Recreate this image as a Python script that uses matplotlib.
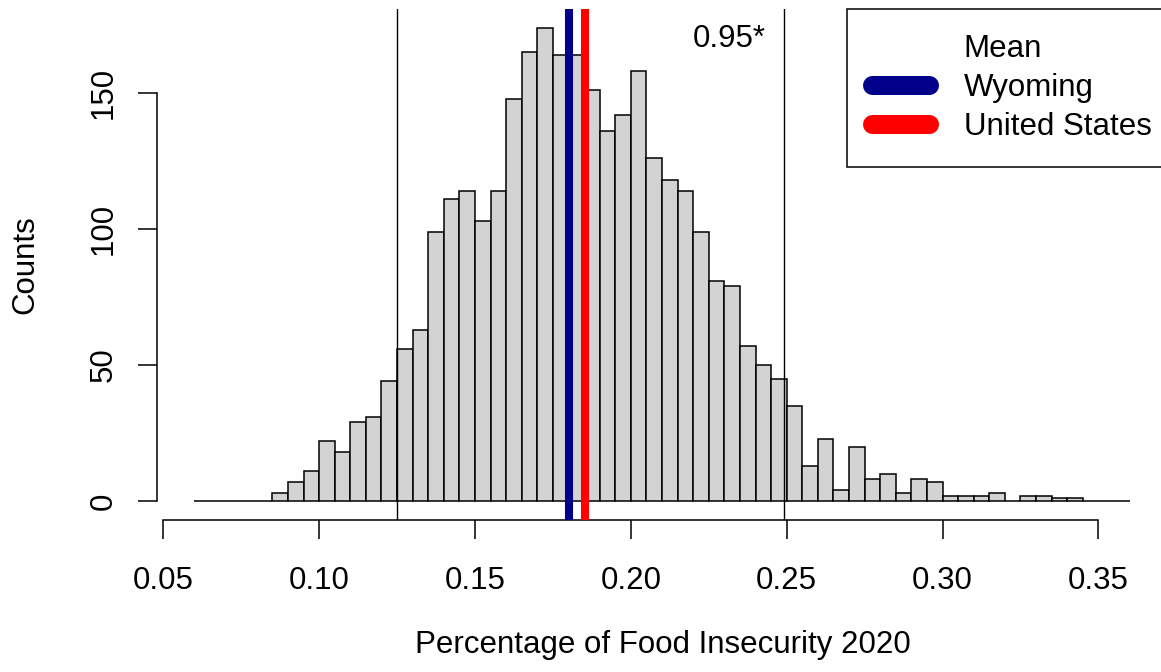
import matplotlib
matplotlib.use("Agg")
import matplotlib.pyplot as plt
from matplotlib.lines import Line2D
import numpy as np

# ---- data ----
bin_start = 0.06
bin_width = 0.005
counts = [0, 0, 0, 0, 0,
          3, 7, 11, 22, 18, 29, 31, 44, 56, 63,
          99, 111, 114, 103, 114, 148, 165, 174, 164, 164,
          151, 136, 142, 158, 126, 118, 114, 99, 81, 79,
          57, 50, 45, 35, 13, 23, 4, 20, 8, 10,
          3, 8, 7, 2, 2, 2, 3, 0, 2, 2,
          1, 1, 0, 0, 0]
ci_lower = 0.125
ci_upper = 0.249
ci_label = "0.95*"
ci_label_y = 170
mean_wyoming = 0.1801
mean_us = 0.1854
legend_title = "Mean"
legend_labels = ["Wyoming", "United States"]
x_ticks = [0.05, 0.10, 0.15, 0.20, 0.25, 0.30, 0.35]
y_ticks = [0, 50, 100, 150]
x_label = "Percentage of Food Insecurity 2020"
y_label = "Counts"

# ---- styling ----
plt.rcParams['font.family'] = ['Liberation Sans', 'DejaVu Sans']
W, H = 1161, 672
FS = 22.5
BLUE = '#00008B'
RED = '#FF0000'

fig = plt.figure(figsize=(W / 100, H / 100), dpi=100)
ax = fig.add_axes([157 / W, 152 / H, 1010 / W, 511 / H])

edges = bin_start + bin_width * np.arange(len(counts))
ax.bar(edges, counts, width=bin_width, align='edge', color='#D3D3D3',
       edgecolor='black', linewidth=1.1, zorder=1)

n_edges = len(counts)
x_lo = bin_start
x_hi = bin_start + bin_width * n_edges
xr = x_hi - x_lo
ax.set_xlim(x_lo - 0.04 * xr, x_hi + 0.04 * xr)
ymax = max(counts)
ax.set_ylim(-0.04 * ymax, ymax * 1.04)

ax.axvline(ci_lower, color='black', lw=1.0, zorder=2)
ax.axvline(ci_upper, color='black', lw=1.0, zorder=2)
ax.axvline(mean_wyoming, color=BLUE, lw=5.8, zorder=3)
ax.axvline(mean_us, color=RED, lw=5.8, zorder=3)

ax.annotate(ci_label, xy=(ci_upper, ci_label_y), xytext=(-13, 0),
            textcoords='offset points', ha='right', va='center', fontsize=FS)

for s in ['top', 'right']:
    ax.spines[s].set_visible(False)
ax.spines['left'].set_bounds(y_ticks[0], y_ticks[-1])
ax.spines['bottom'].set_bounds(x_ticks[0], x_ticks[-1])
for s in ['left', 'bottom']:
    ax.spines[s].set_linewidth(1.1)

ax.set_xticks(x_ticks)
ax.set_xticklabels([f"{t:.2f}" for t in x_ticks])
ax.set_yticks(y_ticks)
ax.set_yticklabels([str(t) for t in y_ticks])
ax.tick_params(axis='both', direction='out', length=13.7, width=1.1,
               labelsize=FS)
ax.tick_params(axis='x', pad=19.5)
ax.tick_params(axis='y', pad=14)
for lab in ax.get_yticklabels():
    lab.set_rotation(90)
    lab.set_va('center')
    lab.set_ha('right')

fig.text(662.7 / W, 1 - 653 / H, x_label, ha='center', va='baseline',
         fontsize=FS)
fig.text(33 / W, 1 - 264.5 / H, y_label, ha='center', va='baseline',
         rotation=90, rotation_mode='anchor', fontsize=FS)

handles = [Line2D([], [], color='none'),
           Line2D([], [], color=BLUE, lw=13.7, solid_capstyle='round'),
           Line2D([], [], color=RED, lw=13.7, solid_capstyle='round')]
leg = fig.legend(handles, [legend_title] + legend_labels, loc='upper left',
                 bbox_to_anchor=(847 / W, 1 - 9.3 / H),
                 bbox_transform=fig.transFigure, frameon=True, fancybox=False,
                 framealpha=1, edgecolor='black', fontsize=FS,
                 handlelength=1.83, handletextpad=1.1, borderpad=0.8,
                 labelspacing=0.28, borderaxespad=0)
leg.get_frame().set_linewidth(1.1)

fig.savefig('out.png', dpi=100)
